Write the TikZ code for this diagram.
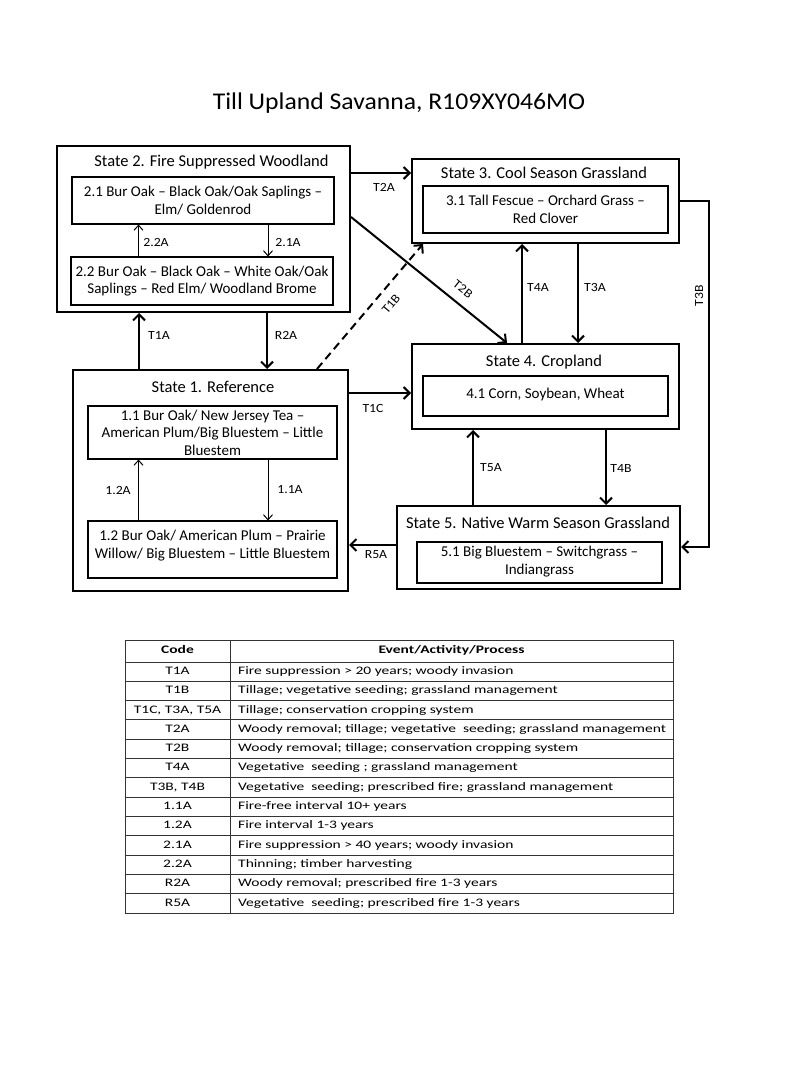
\documentclass[tikz,border=0pt]{standalone}
\usepackage{fontspec}
\setmainfont{Carlito}
\newfontfamily\titlefont[FakeStretch=1.07]{Carlito}
\newfontfamily\labfont[FakeStretch=1.1]{Carlito}
\newfontfamily\tabfont[FakeStretch=1.35]{Carlito}
\usetikzlibrary{arrows.meta,calc}
\tikzset{
  stbox/.style={draw, line width=2pt, inner sep=0pt},
  inbox/.style={draw, line width=1.1pt, inner sep=0pt, align=center, font=\fontsize{15}{17.5}\selectfont},
  intext/.style={inner sep=0pt, align=center, font=\fontsize{15}{17.5}\selectfont},
  sttitle/.style={inner sep=0pt, font=\fontsize{16.5}{19}\selectfont},
  lab/.style={inner sep=0pt, font=\labfont\fontsize{12.5}{14}\selectfont},
  mainarr/.style={line width=2pt, -{Straight Barb[length=6pt,width=12pt]}},
  thinarr/.style={line width=1pt, -{Straight Barb[length=5pt,width=9pt]}},
  tabline/.style={draw=black!80, line width=0.9pt},
  tcell/.style={inner sep=0pt, text height=8pt, text depth=2.5pt, font=\tabfont\fontsize{11.5}{13}\selectfont},
  thead/.style={tcell, font=\tabfont\bfseries\fontsize{11.5}{13}\selectfont}
}
\begin{document}
\begin{tikzpicture}[x=1pt,y=-1pt]
\fill[white] (0,0) rectangle (800,1067);
\useasboundingbox (0,0) rectangle (800,1067);

% title
\node[inner sep=0pt, font=\titlefont\fontsize{24}{28}\selectfont] (title) at (399,103) {Till Upland Savanna, R109XY046MO};

% State 2
\node[stbox, minimum width=293pt, minimum height=166pt] (s2) at (203.5,229) {};
\node[sttitle] (s2t) at (211.5,162) {State 2. Fire Suppressed Woodland};
\node[inbox, minimum width=262pt, minimum height=47pt] (b21) at (203,200.5) {2.1 Bur Oak -- Black Oak/Oak Saplings --\\Elm/ Goldenrod};
\node[inbox, minimum width=262pt, minimum height=48pt] (b22) at (202,281) {2.2 Bur Oak -- Black Oak -- White Oak/Oak\\Saplings -- Red Elm/ Woodland Brome};

% State 1
\node[stbox, minimum width=275pt, minimum height=221pt] (s1) at (210.5,480.5) {};
\node[sttitle] (s1t) at (213,387) {State 1. Reference};
\node[inbox, minimum width=249pt, minimum height=53pt] (b11) at (212.5,432.5) {1.1 Bur Oak/ New Jersey Tea --\\American Plum/Big Bluestem -- Little\\Bluestem};
\node[inbox, minimum width=249pt, minimum height=57pt] (b12) at (212.5,549.5) {};
\node[intext] (b12t) at (212.5,545.5) {1.2 Bur Oak/ American Plum -- Prairie\\Willow/ Big Bluestem -- Little Bluestem};

% State 3
\node[stbox, minimum width=267pt, minimum height=84pt] (s3) at (545.5,201) {};
\node[sttitle] (s3t) at (544,173) {State 3. Cool Season Grassland};
\node[inbox, minimum width=245pt, minimum height=47pt] (b31) at (545.5,209.5) {3.1 Tall Fescue -- Orchard Grass --\\Red Clover};

% State 4
\node[stbox, minimum width=267pt, minimum height=85pt] (s4) at (545.5,386.5) {};
\node[sttitle] (s4t) at (544,362) {State 4. Cropland};
\node[inbox, minimum width=245pt, minimum height=40pt] (b41) at (545.5,396) {};
\node[intext] (b41t) at (545.5,394) {4.1 Corn, Soybean, Wheat};

% State 5
\node[stbox, minimum width=283pt, minimum height=83pt] (s5) at (538.5,547.5) {};
\node[sttitle] (s5t) at (538,523) {State 5. Native Warm Season Grassland};
\node[inbox, minimum width=245pt, minimum height=41pt] (b51) at (539.5,562.5) {};
\node[intext] (b51t) at (539.5,561.5) {5.1 Big Bluestem -- Switchgrass --\\Indiangrass};

% helper coordinates
\coordinate (yT2A) at (0,173);
\coordinate (yT2B) at (0,217);
\coordinate (xT2B) at (507,0);
\coordinate (xT1Bs) at (317,0);
\coordinate (xT1Be) at (423,0);
\coordinate (xT1A) at (139,0);
\coordinate (xR2A) at (267,0);
\coordinate (yT1C) at (0,393);
\coordinate (yR5A) at (0,545);
\coordinate (xT4A) at (522,0);
\coordinate (xT3A) at (578,0);
\coordinate (xT5A) at (473,0);
\coordinate (xT4B) at (606,0);
\coordinate (t3bTop) at (709,201);
\coordinate (t3bBot) at (709,547);
\coordinate (xL) at (138.5,0);
\coordinate (xR) at (268,0);

% main arrows
\draw[mainarr] (s2.east |- yT2A) -- (s3.west |- yT2A);
\draw[mainarr] (s2.east |- yT2B) -- (s4.north -| xT2B);
\draw[mainarr, dash pattern=on 8pt off 5pt] (s1.north -| xT1Bs) -- (s3.south -| xT1Be);
\draw[mainarr] (s1.north -| xT1A) -- (s2.south -| xT1A);
\draw[mainarr] (s2.south -| xR2A) -- (s1.north -| xR2A);
\draw[mainarr] (s1.east |- yT1C) -- (s4.west |- yT1C);
\draw[mainarr] (s5.west |- yR5A) -- (s1.east |- yR5A);
\draw[mainarr] (s4.north -| xT4A) -- (s3.south -| xT4A);
\draw[mainarr] (s3.south -| xT3A) -- (s4.north -| xT3A);
\draw[mainarr] (s5.north -| xT5A) -- (s4.south -| xT5A);
\draw[mainarr] (s4.south -| xT4B) -- (s5.north -| xT4B);
\draw[mainarr, line join=miter] (s3.east |- t3bTop) -- (t3bTop) -- (t3bBot) -- (s5.east |- t3bBot);

% inner arrows
\draw[thinarr] (b22.north -| xL) -- (b21.south -| xL);
\draw[thinarr] (b21.south -| xR) -- (b22.north -| xR);
\draw[thinarr] (b12.north -| xL) -- (b11.south -| xL);
\draw[thinarr] (b11.south -| xR) -- (b12.north -| xR);

% labels
\node[lab] (lT2A) at (384,187) {T2A};
\node[lab] (lT1A) at (159,335) {T1A};
\node[lab] (lR2A) at (286,335) {R2A};
\node[lab, rotate=50] (lT1B) at (391,304) {T1B};
\node[lab, rotate=-39] (lT2B) at (463,289) {T2B};
\node[lab] (lT4A) at (538,287) {T4A};
\node[lab] (lT3A) at (595,287) {T3A};
\node[lab, rotate=90] (lT3B) at (699,296) {T3B};
\node[lab] (lT1C) at (373,408) {T1C};
\node[lab] (lR5A) at (376,555) {R5A};
\node[lab] (lT5A) at (491,468) {T5A};
\node[lab] (lT4B) at (621,468) {T4B};
\node[lab] (l22A) at (156,242) {2.2A};
\node[lab] (l21A) at (288,242) {2.1A};
\node[lab] (l12A) at (118,490) {1.2A};
\node[lab] (l11A) at (290,490) {1.1A};

% table
\draw[tabline] (125,640) rectangle (673,913);
\draw[tabline] (230,640) -- (230,913);
\draw[tabline] (125,662) -- (673,662);
\foreach \i in {1,...,12} {
  \draw[tabline] (125,662+19.3*\i) -- (673,662+19.3*\i);
}
\node[thead] (hc) at (177.5,651) {Code};
\node[thead] (he) at (451.5,651) {Event/Activity/Process};

\node[tcell] (c1) at (177.5,671.65) {T1A};
\node[tcell, anchor=west] (e1) at (238,671.65) {Fire suppression > 20 years; woody invasion};
\node[tcell] (c2) at (177.5,690.95) {T1B};
\node[tcell, anchor=west] (e2) at (238,690.95) {Tillage; vegetative seeding; grassland management};
\node[tcell] (c3) at (177.5,710.25) {T1C, T3A, T5A};
\node[tcell, anchor=west] (e3) at (238,710.25) {Tillage; conservation cropping system};
\node[tcell] (c4) at (177.5,729.55) {T2A};
\node[tcell, anchor=west] (e4) at (238,729.55) {Woody removal; tillage; vegetative\ \ seeding; grassland management};
\node[tcell] (c5) at (177.5,748.85) {T2B};
\node[tcell, anchor=west] (e5) at (238,748.85) {Woody removal; tillage; conservation cropping system};
\node[tcell] (c6) at (177.5,768.15) {T4A};
\node[tcell, anchor=west] (e6) at (238,768.15) {Vegetative\ \ seeding ; grassland management};
\node[tcell] (c7) at (177.5,787.45) {T3B, T4B};
\node[tcell, anchor=west] (e7) at (238,787.45) {Vegetative\ \ seeding; prescribed fire; grassland management};
\node[tcell] (c8) at (177.5,806.75) {1.1A};
\node[tcell, anchor=west] (e8) at (238,806.75) {Fire-free interval 10+ years};
\node[tcell] (c9) at (177.5,826.05) {1.2A};
\node[tcell, anchor=west] (e9) at (238,826.05) {Fire interval 1-3 years};
\node[tcell] (c10) at (177.5,845.35) {2.1A};
\node[tcell, anchor=west] (e10) at (238,845.35) {Fire suppression > 40 years; woody invasion};
\node[tcell] (c11) at (177.5,864.65) {2.2A};
\node[tcell, anchor=west] (e11) at (238,864.65) {Thinning; timber harvesting};
\node[tcell] (c12) at (177.5,883.95) {R2A};
\node[tcell, anchor=west] (e12) at (238,883.95) {Woody removal; prescribed fire 1-3 years};
\node[tcell] (c13) at (177.5,903.25) {R5A};
\node[tcell, anchor=west] (e13) at (238,903.25) {Vegetative\ \ seeding; prescribed fire 1-3 years};
\end{tikzpicture}
\end{document}
